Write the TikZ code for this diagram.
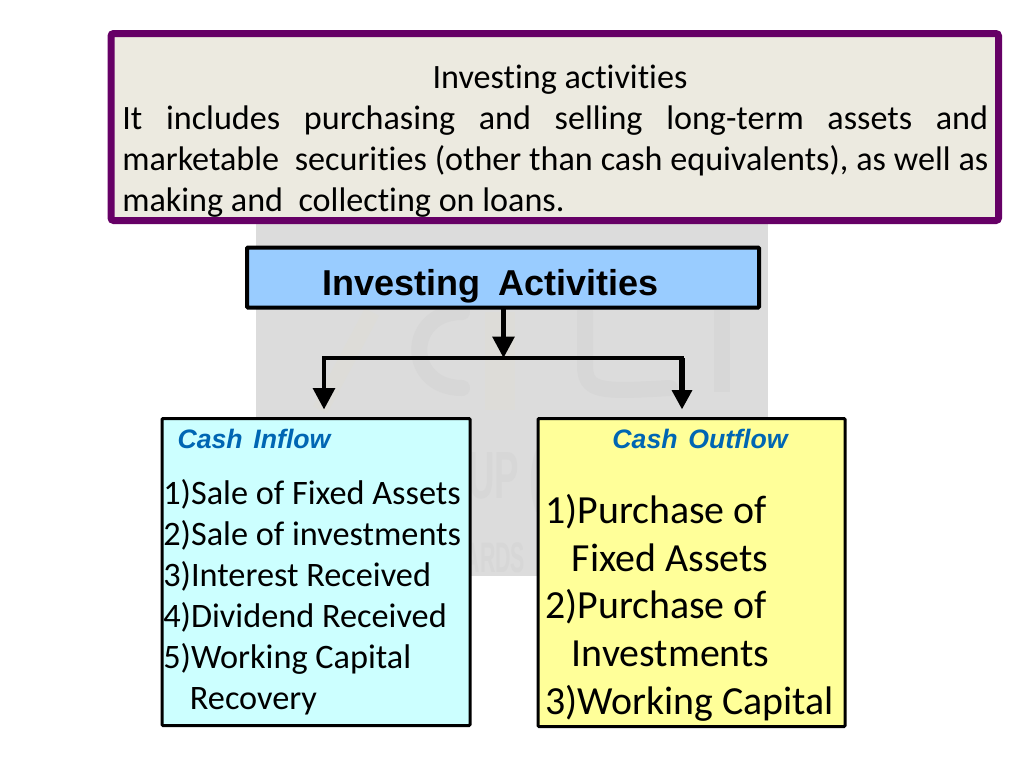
\documentclass[tikz,border=0pt]{standalone}
\usepackage{fontspec}
\setmainfont{Carlito}[Ligatures=NoCommon]
\newfontfamily\arialfont{Liberation Sans}
\usetikzlibrary{arrows.meta}
\definecolor{purpleedge}{HTML}{660066}
\definecolor{creamfill}{HTML}{ECEAE0}
\definecolor{bluefill}{HTML}{99CCFF}
\definecolor{cyanfill}{HTML}{CCFFFF}
\definecolor{yellowfill}{HTML}{FFFF99}
\definecolor{headblue}{HTML}{0066B3}
\definecolor{wmgrey}{HTML}{DCDCDC}
\definecolor{wmdark}{HTML}{D7D7D7}
\definecolor{wmtan}{HTML}{DDDCD8}
\tikzset{
  x=0.75pt,y=-0.75pt,
  px/.style={line width=#1*0.75pt},
  anchorbox/.style={draw=black,px=3,rounded corners=0.75pt,inner sep=0pt,outer sep=0pt},
  deftext/.style={inner sep=0pt,font=\fontsize{25.6pt}{30pt}\selectfont},
  inbody/.style={inner sep=0pt,anchor=north west,align=left,text=black,font=\fontsize{25.7pt}{30.75pt}\selectfont},
  outbody/.style={inner sep=0pt,anchor=north west,align=left,text=black,font=\fontsize{29.9pt}{35.8pt}\selectfont},
  headtext/.style={inner sep=0pt,text=headblue,font=\arialfont\bfseries\itshape\fontsize{20pt}{22pt}\selectfont},
  flow/.style={-{Triangle[length=16pt,width=16pt]},black,px=4.5},
  wmstroke/.style={draw=wmdark,px=16,line cap=round},
  wmtext/.style={inner sep=0pt,text=wmdark,font=\arialfont\bfseries},
}
\begin{document}
\begin{tikzpicture}
\useasboundingbox (0,0) rectangle (1024,768);
\fill[white] (0,0) rectangle (1024,768);
\fill[wmgrey] (256,222) rectangle (768,576);
% faint watermark behind the chart
\begin{scope}
\clip (256,222) rectangle (768,576);
\draw[draw=wmtan,px=16] (320,410) -- (372,312);
\draw[wmstroke] (462,312) .. controls (405,312) and (405,388) .. (462,388);
\draw[draw=wmtan,px=30] (500,312) -- (500,410);
\draw[wmstroke] (585,312) -- (585,365) .. controls (585,392) and (600,392) .. (670,388);
\draw[wmstroke,line cap=butt] (722,310) -- (722,392);
\node[wmtext,anchor=base,xscale=0.55,font=\arialfont\bfseries\fontsize{50pt}{50pt}\selectfont] (wma) at (505,498) {UP (};
\node[wmtext,anchor=base,xscale=0.5,font=\arialfont\bfseries\fontsize{32pt}{32pt}\selectfont] (wmb) at (495,572) {ARDS};
\end{scope}
% definition box
\draw[draw=purpleedge,fill=creamfill,px=7,rounded corners=2pt] (111,33.5) rectangle (998.5,220.5);
\node[deftext,anchor=base] (deft) at (560,88) {Investing activities};
\node[deftext,anchor=base west] (defa) at (122,129) {\hbox to 649.5pt{It\hfill includes\hfill purchasing\hfill and\hfill selling\hfill long-term\hfill assets\hfill and}};
\node[deftext,anchor=base west] (defb) at (122,170) {\hbox to 649.5pt{marketable\ \ securities (other than cash equivalents), as well as}};
\node[deftext,anchor=base west] (defc) at (122,211) {making and\ \ collecting on loans.};
% title box
\node[anchorbox,fill=bluefill,px=4,minimum width=384pt,minimum height=45pt,anchor=north west] (top) at (247,247.5) {};
\node[inner sep=0pt,anchor=base] (toplabel) at (490.5,295) {\arialfont\bfseries\fontsize{27pt}{28pt}\selectfont Investing\hspace{13pt}Activities};
% lower boxes
\node[anchorbox,fill=cyanfill,minimum width=231pt,minimum height=230.25pt,anchor=north west] (inflow) at (162,418.5) {};
\node[anchorbox,fill=yellowfill,minimum width=230.25pt,minimum height=231pt,anchor=north west] (outflow) at (538,418.5) {};
\node[headtext,anchor=base] (inhead) at (254,448) {Cash\hspace{8pt}Inflow};
\node[headtext,anchor=base] (outhead) at (700,448) {Cash\hspace{8pt}Outflow};
\node[inbody] (intext) at (163,479) {1)Sale of Fixed Assets\\2)Sale of investments\\3)Interest Received\\4)Dividend Received\\5)Working Capital\\\hspace*{20pt}Recovery};
\node[outbody] (outtext) at (545,494) {1)Purchase of\\\hspace*{20pt}Fixed Assets\\2)Purchase of\\\hspace*{20pt}Investments\\3)Working Capital};
% connectors
\coordinate (bus) at (503.5,358);
\coordinate (busl) at (324,358);
\coordinate (busr) at (682,358);
\coordinate (inarrow) at (324,409.5);
\coordinate (outarrow) at (682,409.5);
\draw[flow] (top.south -| bus) -- (bus);
\draw[black,px=4,line cap=rect] (busl) -- (busr);
\draw[flow] (busl) -- (inarrow);
\draw[flow,px=6,-{Triangle[length=14.5pt,width=14.5pt]}] (busr) -- (outarrow);
\end{tikzpicture}
\end{document}
